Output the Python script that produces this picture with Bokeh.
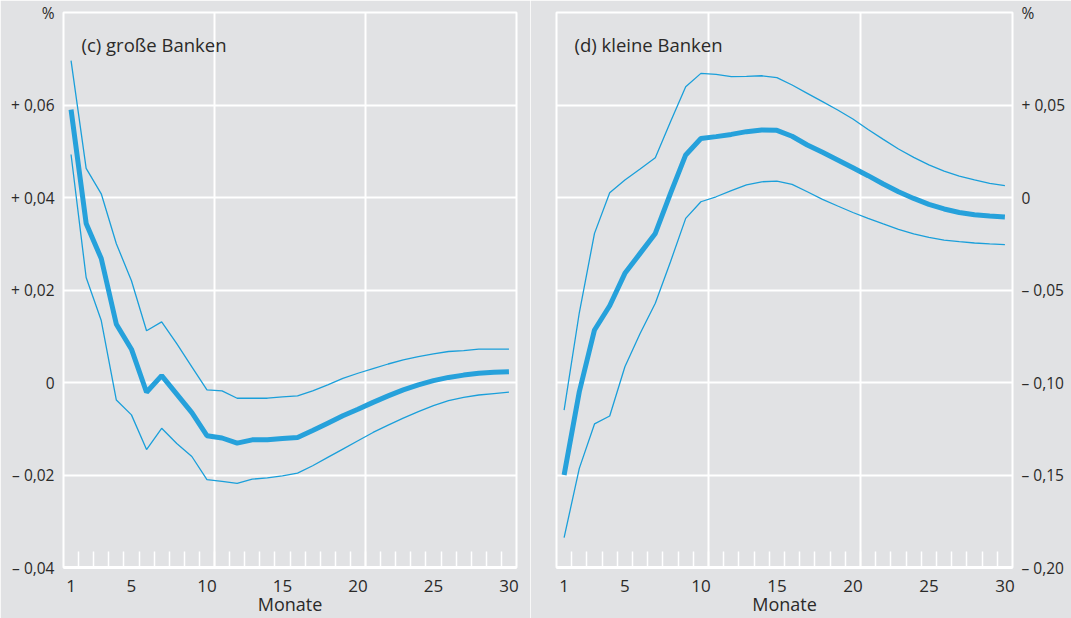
from bokeh.plotting import figure
from bokeh.layouts import row
from bokeh.models import FixedTicker, Label, Grid, CustomJSTickFormatter, Range1d
from bokeh.embed import file_html
from bokeh.resources import INLINE

months = list(range(1, 31))
x_labels = [1, 5, 10, 15, 20, 25, 30]

# (c) große Banken
big_mid = [0.0590, 0.0344, 0.0268, 0.0126, 0.0072, -0.0021, 0.0015, -0.0025, -0.0065, -0.0115,
           -0.0120, -0.0131, -0.0124, -0.0124, -0.0121, -0.0119, -0.0104, -0.0088, -0.0072, -0.0058,
           -0.0043, -0.0029, -0.0016, -0.0005, 0.0004, 0.0011, 0.0016, 0.0020, 0.0022, 0.0023]
big_hi = [0.0696, 0.0463, 0.0408, 0.0300, 0.0220, 0.0112, 0.0131, 0.0084, 0.0034, -0.0016,
          -0.0018, -0.0034, -0.0034, -0.0034, -0.0031, -0.0029, -0.0018, -0.0005, 0.0009, 0.0020,
          0.0030, 0.0040, 0.0049, 0.0056, 0.0062, 0.0067, 0.0069, 0.0072, 0.0072, 0.0072]
big_lo = [0.0493, 0.0227, 0.0134, -0.0038, -0.0070, -0.0145, -0.0099, -0.0132, -0.0160, -0.0210,
          -0.0214, -0.0218, -0.0209, -0.0206, -0.0202, -0.0196, -0.0180, -0.0162, -0.0144, -0.0126,
          -0.0108, -0.0092, -0.0077, -0.0063, -0.0050, -0.0039, -0.0032, -0.0027, -0.0024, -0.0021]

# (d) kleine Banken
small_mid = [-0.1500, -0.1050, -0.0716, -0.0585, -0.0410, -0.0302, -0.0194, 0.0022, 0.0230, 0.0319,
             0.0329, 0.0341, 0.0356, 0.0365, 0.0363, 0.0331, 0.0284, 0.0244, 0.0203, 0.0161,
             0.0118, 0.0073, 0.0031, -0.0005, -0.0037, -0.0062, -0.0081, -0.0093, -0.0100, -0.0105]
small_hi = [-0.1149, -0.0623, -0.0194, 0.0026, 0.0095, 0.0154, 0.0215, 0.0410, 0.0599, 0.0671,
            0.0665, 0.0653, 0.0655, 0.0658, 0.0648, 0.0608, 0.0563, 0.0518, 0.0473, 0.0424,
            0.0368, 0.0314, 0.0262, 0.0217, 0.0176, 0.0143, 0.0116, 0.0095, 0.0076, 0.0064]
small_lo = [-0.1839, -0.1464, -0.1224, -0.1181, -0.0915, -0.0735, -0.0572, -0.0347, -0.0113, -0.0023,
            0.0004, 0.0037, 0.0068, 0.0085, 0.0089, 0.0071, 0.0031, -0.0010, -0.0046, -0.0081,
            -0.0113, -0.0143, -0.0172, -0.0197, -0.0216, -0.0230, -0.0239, -0.0246, -0.0251, -0.0255]

big_yticks = [-0.04, -0.02, 0, 0.02, 0.04, 0.06]
small_yticks = [-0.20, -0.15, -0.10, -0.05, 0, 0.05]

BG = "#e1e2e4"
BLUE = "#1a9fda"
TXT = "#2b2a29"
FONT = "Open Sans"


def make_formatter(top):
    return CustomJSTickFormatter(args=dict(top=top), code="""
if (Math.abs(tick - top) < 1e-9) { return "%"; }
if (Math.abs(tick) < 1e-9) { return "0"; }
const s = Math.abs(tick).toFixed(2).replace(".", ",");
return (tick > 0 ? "+ " : "\\u2013 ") + s;
""")


def make_panel(title, mid, hi, lo, yrange, yticks, side, width, bl, br):
    p = figure(width=width, height=618, x_range=Range1d(0.5, 30.5), y_range=Range1d(*yrange),
               output_backend="svg", toolbar_location=None, y_axis_location=side,
               min_border_left=bl, min_border_right=br, min_border_top=12, min_border_bottom=51)
    p.background_fill_color = BG
    p.border_fill_color = BG
    p.outline_line_color = "white"
    p.outline_line_width = 2

    # grids
    p.xgrid.visible = False
    p.ygrid.ticker = FixedTicker(ticks=yticks)
    p.ygrid.grid_line_color = "white"
    p.ygrid.grid_line_width = 2
    vg = Grid(dimension=0, ticker=FixedTicker(ticks=[10.5, 20.5]),
              grid_line_color="white", grid_line_width=2)
    p.add_layout(vg)

    # x axis
    xa = p.xaxis[0]
    xa.ticker = FixedTicker(ticks=x_labels, minor_ticks=[m + 0.5 for m in months[:-1]])
    xa.axis_line_color = "white"
    xa.axis_line_width = 3
    xa.major_tick_line_color = None
    xa.minor_tick_line_color = "white"
    xa.minor_tick_line_width = 1.5
    xa.minor_tick_in = 16
    xa.minor_tick_out = 0
    xa.major_label_standoff = 6
    xa.major_label_text_font = FONT
    xa.major_label_text_font_size = "17px"
    xa.major_label_text_color = TXT
    xa.axis_label = "Monate"
    xa.axis_label_standoff = -3
    xa.axis_label_text_font = FONT
    xa.axis_label_text_font_size = "18px"
    xa.axis_label_text_font_style = "normal"
    xa.axis_label_text_color = TXT

    # y axis
    ya = p.yaxis[0]
    ya.ticker = FixedTicker(ticks=yticks + [yrange[1]])
    ya.formatter = make_formatter(yrange[1])
    ya.axis_line_color = None
    ya.major_tick_line_color = None
    ya.minor_tick_line_color = None
    ya.major_label_standoff = 3
    ya.major_label_text_font = FONT
    ya.major_label_text_font_size = "15.5px"
    ya.major_label_text_color = TXT

    # lines
    p.line(months, hi, line_color=BLUE, line_width=1.3)
    p.line(months, lo, line_color=BLUE, line_width=1.3)
    p.line(months, mid, line_color="#26a1db", line_width=5)

    # panel title
    p.add_layout(Label(x=0.5, y=yrange[1], x_offset=18, y_offset=-32, text=title,
                       text_font=FONT, text_font_size="18.5px", text_color=TXT,
                       text_baseline="middle", text_align="left"))
    return p


p1 = make_panel("(c) große Banken", big_mid, big_hi, big_lo, (-0.04, 0.08), big_yticks,
                "left", 530, 63, 14)
p2 = make_panel("(d) kleine Banken", small_mid, small_hi, small_lo, (-0.20, 0.10), small_yticks,
                "right", 541, 26, 59)

layout = row(p1, p2)
open("out.html", "w").write(file_html(layout, INLINE, title="Monate"))
